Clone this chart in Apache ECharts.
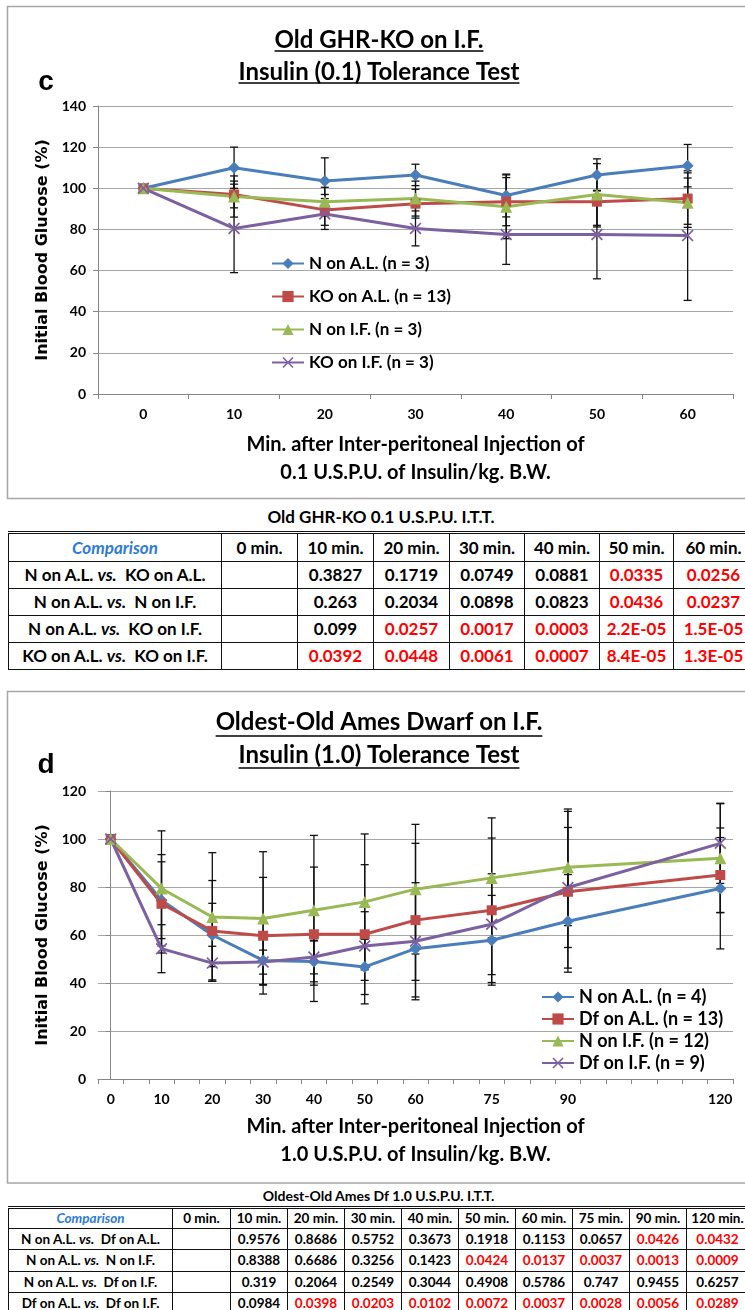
<!DOCTYPE html>
<html>
<head>
<meta charset="utf-8">
<script src="https://cdn.jsdelivr.net/npm/echarts@6/dist/echarts.min.js"></script>
<style>
html, body { margin: 0; padding: 0; background: #fff; }
body { width: 745px; height: 1310px; position: relative; overflow: hidden; }
#main { position: absolute; left: 0; top: 0; width: 745px; height: 1310px; }
table.pv { position: absolute; border-collapse: collapse; table-layout: fixed; font-family: Lato, "Noto Sans", sans-serif; font-weight: bold; background: #fff; color: #000; }
table.pv td { border: 1.5px solid #111; text-align: center; padding: 0; white-space: nowrap; overflow: hidden; }
table.pv td.ttl { border: none; border-bottom: 3px double #111; }
table.pv td.cmp { color: #2E7BD6; font-style: italic; }
table.pv .sig { color: #FF0000; }
</style>
</head>
<body>
<div id="main"></div>
<table id="tabC" class="pv"></table>
<table id="tabD" class="pv"></table>
<script>
// ---- panel c : Old GHR-KO, insulin 0.1 ----
var minutesC = ['0', '10', '20', '30', '40', '50', '60'];
var namesC = ['N on A.L. (n = 3)', 'KO on A.L. (n = 13)', 'N on I.F. (n = 3)', 'KO on I.F. (n = 3)'];
var nAL_c  = [100, 110, 103.5, 106.5, 96.5, 106.5, 111];
var koAL_c = [100, 97, 89.5, 92.5, 93.5, 93.5, 95];
var nIF_c  = [100, 96, 93.5, 95, 91, 97, 93];
var koIF_c = [100, 80.5, 87.5, 80.5, 77.5, 77.5, 77];
// error bar half-lengths
var nAL_cErr  = [0, 10, 11.3, 5.2, 10.4, 7.8, 10.3];
var koAL_cErr = [0, 6.5, 7.5, 7, 11.7, 12.3, 12.5];
var nIF_cErr  = [0, 10, 7, 8.5, 15.5, 15, 12];
var koIF_cErr = [0, 21.5, 7.5, 8.5, 14.5, 21.5, 31.5];

// ---- panel d : Oldest-old Ames dwarf, insulin 1.0 ----
var minutesD = [0, 10, 20, 30, 40, 50, 60, 75, 90, 120];
var namesD = ['N on A.L. (n = 4)', 'Df on A.L. (n = 13)', 'N on I.F. (n = 12)', 'Df on I.F. (n = 9)'];
var nAL_d  = [100, 74.5, 60, 49.4, 49, 46.7, 54.3, 57.8, 65.7, 79.4];
var dfAL_d = [100, 73, 61.7, 59.7, 60.3, 60.3, 66.2, 70.3, 78, 85];
var nIF_d  = [100, 79.4, 67.5, 66.9, 70.3, 73.8, 79.1, 83.8, 88.2, 92];
var dfIF_d = [100, 54.3, 48.3, 48.7, 50.8, 55.4, 57.4, 64.5, 79.8, 98.2];
var nAL_dErr  = [0, 16, 13.2, 10, 8.5, 11.5, 13.2, 18.7, 19.5, 25.2];
var dfAL_dErr = [0, 20.5, 21, 24.3, 28, 29, 32, 30.1, 33.5, 15.6];
var nIF_dErr  = [0, 24, 26.8, 27.8, 31.2, 28.3, 27, 25, 24.3, 22.7];
var dfIF_dErr = [0, 10, 7, 5, 7, 14.3, 24.4, 21, 25, 16.7];

var yTicksC = [0, 140, 20];   // min, max, step
var yTicksD = [0, 120, 20];

// ---- p-value tables ----
var tableTitleC = 'Old GHR-KO 0.1 U.S.P.U. I.T.T.';
var headC = ['Comparison', '0 min.', '10 min.', '20 min.', '30 min.', '40 min.', '50 min.', '60 min.'];
var compC = [['N on A.L.', 'KO on A.L.'], ['N on A.L.', 'N on I.F.'], ['N on A.L.', 'KO on I.F.'], ['KO on A.L.', 'KO on I.F.']];
var pValsC = [
  ['', '0.3827', '0.1719', '0.0749', '0.0881', '0.0335', '0.0256'],
  ['', '0.263', '0.2034', '0.0898', '0.0823', '0.0436', '0.0237'],
  ['', '0.099', '0.0257', '0.0017', '0.0003', '2.2E-05', '1.5E-05'],
  ['', '0.0392', '0.0448', '0.0061', '0.0007', '8.4E-05', '1.3E-05']
];
var tableTitleD = 'Oldest-Old Ames Df 1.0 U.S.P.U. I.T.T.';
var headD = ['Comparison', '0 min.', '10 min.', '20 min.', '30 min.', '40 min.', '50 min.', '60 min.', '75 min.', '90 min.', '120 min.'];
var compD = [['N on A.L.', 'Df on A.L.'], ['N on A.L.', 'N on I.F.'], ['N on A.L.', 'Df on I.F.'], ['Df on A.L.', 'Df on I.F.']];
var pValsD = [
  ['', '0.9576', '0.8686', '0.5752', '0.3673', '0.1918', '0.1153', '0.0657', '0.0426', '0.0432'],
  ['', '0.8388', '0.6686', '0.3256', '0.1423', '0.0424', '0.0137', '0.0037', '0.0013', '0.0009'],
  ['', '0.319', '0.2064', '0.2549', '0.3044', '0.4908', '0.5786', '0.747', '0.9455', '0.6257'],
  ['', '0.0984', '0.0398', '0.0203', '0.0102', '0.0072', '0.0037', '0.0028', '0.0056', '0.0289']
];

var colors = ['#4A7EBB', '#BE4B48', '#98B954', '#7D60A0'];
var xMark = 'path://M0,1L1,0L5,4L9,0L10,1L6,5L10,9L9,10L5,6L1,10L0,9L4,5Z';
var symbols = ['diamond', 'rect', 'triangle', xMark];
var symSizes = [12, 10, 12, 12];
var gridGray = '#A6A6A6';
var calib = 'Lato';

function errBars(xs, vals, errs) {
  var out = [];
  for (var i = 0; i < vals.length; i++) {
    if (errs[i] > 0) out.push([xs[i], vals[i] - errs[i], vals[i] + errs[i]]);
  }
  return out;
}

function renderErr(params, api) {
  var x = api.value(0);
  var top = api.coord([x, api.value(2)]);
  var bot = api.coord([x, api.value(1)]);
  var hw = 4;
  var st = { stroke: '#111', lineWidth: 1.3 };
  return {
    type: 'group',
    children: [
      { type: 'line', shape: { x1: top[0], y1: top[1], x2: bot[0], y2: bot[1] }, style: st },
      { type: 'line', shape: { x1: top[0] - hw, y1: top[1], x2: top[0] + hw, y2: top[1] }, style: st },
      { type: 'line', shape: { x1: bot[0] - hw, y1: bot[1], x2: bot[0] + hw, y2: bot[1] }, style: st }
    ]
  };
}

var series = [];
function addPanel(gi, names, xs, valsList, errsList, isCat) {
  valsList.forEach(function (vals, k) {
    series.push({
      type: 'custom', name: names[k] + ' err', xAxisIndex: gi, yAxisIndex: gi,
      renderItem: renderErr, encode: { x: 0, y: [1, 2] }, silent: true, z: 1,
      data: errBars(xs, vals, errsList[k])
    });
  });
  valsList.forEach(function (vals, k) {
    series.push({
      type: 'line', name: names[k], xAxisIndex: gi, yAxisIndex: gi, z: 3,
      data: isCat ? vals : xs.map(function (x, i) { return [x, vals[i]]; }),
      symbol: symbols[k], symbolSize: symSizes[k], showSymbol: true,
      lineStyle: { color: colors[k], width: 3 },
      itemStyle: { color: colors[k] }
    });
  });
}
addPanel(0, namesC, minutesC.map(function (m, i) { return i; }),
  [nAL_c, koAL_c, nIF_c, koIF_c], [nAL_cErr, koAL_cErr, nIF_cErr, koIF_cErr], true);
addPanel(1, namesD, minutesD,
  [nAL_d, dfAL_d, nIF_d, dfIF_d], [nAL_dErr, dfAL_dErr, nIF_dErr, dfIF_dErr], false);

var tickD = [];
for (var t = -2.5; t <= 122.5; t += 5) tickD.push(t);

var lblStyle = { color: '#000', fontFamily: calib, fontWeight: 'bold', fontSize: 14 };
var axisLine = { show: true, lineStyle: { color: '#868686', width: 1 } };
var axisTick = { show: true, inside: false, length: 5, lineStyle: { color: '#868686' } };
var yName = 'Initial Blood Glucose (%)';
var yNameStyle = { color: '#000', fontFamily: 'DejaVu Sans', fontWeight: 'bold', fontSize: 16 };
var xNameStyle = { color: '#000', fontFamily: calib, fontWeight: 'bold', fontSize: 20, lineHeight: 28 };

function yAxisOpt(gi, tk) {
  return {
    type: 'value', gridIndex: gi, min: tk[0], max: tk[1], interval: tk[2],
    axisLine: axisLine, axisTick: axisTick,
    axisLabel: Object.assign({ margin: 12 }, lblStyle),
    splitLine: { show: true, lineStyle: { color: gridGray, width: 1.2 } },
    name: yName, nameLocation: 'middle', nameGap: 43, nameTextStyle: yNameStyle
  };
}

var titleFontSize = 24;
function measure(text, size, family) {
  var ctx = document.createElement('canvas').getContext('2d');
  ctx.font = 'bold ' + size + 'px ' + family;
  return ctx.measureText(text).width;
}
function titleRow(text, cx, cy, uy) {
  var w = measure(text, titleFontSize, calib);
  return [
    { type: 'text', x: cx, y: cy, style: { text: text, fontFamily: calib, fontWeight: 'bold', fontSize: titleFontSize, fill: '#000', align: 'center', verticalAlign: 'middle' } },
    { type: 'line', shape: { x1: cx - w / 2, y1: uy, x2: cx + w / 2, y2: uy }, style: { stroke: '#000', lineWidth: 1.5 } }
  ];
}
function panelLetter(txt, x, y) {
  return { type: 'text', x: x, y: y, style: { text: txt, fontFamily: 'Liberation Sans', fontWeight: 'bold', fontSize: 28, fill: '#000', align: 'center', verticalAlign: 'middle' } };
}

var graphics = [
  { type: 'rect', shape: { x: 7.5, y: 6.5, width: 800, height: 492 }, style: { fill: 'none', stroke: gridGray, lineWidth: 1.5 }, z: -1 },
  { type: 'rect', shape: { x: 7.5, y: 691.5, width: 800, height: 491.5 }, style: { fill: 'none', stroke: gridGray, lineWidth: 1.5 }, z: -1 },
  panelLetter('c', 46, 82),
  panelLetter('d', 46, 765)
].concat(
  titleRow('Old GHR-KO on I.F.', 379, 40, 51),
  titleRow('Insulin (0.1) Tolerance Test', 379, 72, 83),
  titleRow('Oldest-Old Ames Dwarf on I.F.', 379, 722, 736),
  titleRow('Insulin (1.0) Tolerance Test', 379, 755, 768)
);

var legendText = { color: '#000', fontFamily: calib, fontWeight: 'bold', fontSize: 17 };

var option = {
  animation: false,
  backgroundColor: '#fff',
  graphic: graphics,
  grid: [
    { left: 98, top: 106, width: 635, height: 288, outerBoundsMode: 'none' },
    { left: 98, top: 791, width: 635, height: 288, outerBoundsMode: 'none' }
  ],
  legend: [
    {
      data: namesC, orient: 'vertical', left: 266, top: 250, itemWidth: 32, itemHeight: 14, itemGap: 16,
      textStyle: legendText, selectedMode: false
    },
    {
      data: namesD, orient: 'vertical', left: 536, top: 983, itemWidth: 32, itemHeight: 14, itemGap: 4,
      textStyle: Object.assign({}, legendText, { fontSize: 18 }), selectedMode: false
    }
  ],
  xAxis: [
    {
      type: 'category', gridIndex: 0, data: minutesC, boundaryGap: true,
      axisLine: axisLine, axisTick: axisTick,
      axisLabel: Object.assign({ margin: 13 }, lblStyle),
      splitLine: { show: false },
      name: 'Min. after Inter-peritoneal Injection of\n0.1 U.S.P.U. of Insulin/kg. B.W.',
      nameLocation: 'middle', nameGap: 37, nameTextStyle: xNameStyle
    },
    {
      type: 'value', gridIndex: 1, min: -2.5, max: 122.5,
      axisLine: axisLine,
      axisTick: Object.assign({ customValues: tickD }, axisTick),
      axisLabel: Object.assign({ margin: 13, customValues: minutesD }, lblStyle),
      splitLine: { show: false },
      name: 'Min. after Inter-peritoneal Injection of\n1.0 U.S.P.U. of Insulin/kg. B.W.',
      nameLocation: 'middle', nameGap: 34, nameTextStyle: xNameStyle
    }
  ],
  yAxis: [yAxisOpt(0, yTicksC), yAxisOpt(1, yTicksD)],
  series: series
};

var chart = echarts.init(document.getElementById('main'));
chart.setOption(option);

// ---- tables (HTML, real text) ----
function buildTable(id, title, head, comps, vals, geo) {
  var tb = document.getElementById(id);
  tb.style.left = geo.left + 'px';
  tb.style.top = geo.top + 'px';
  tb.style.fontSize = geo.fontSize + 'px';
  var html = '<colgroup>';
  geo.cols.forEach(function (w) { html += '<col style="width:' + w + 'px">'; });
  html += '</colgroup>';
  var tw = geo.cols.reduce(function (a, b) { return a + b; }, 0);
  tb.style.width = tw + 'px';
  html += '<tr style="height:' + geo.rows[0] + 'px"><td class="ttl" colspan="' + head.length + '" style="font-size:' + geo.titleSize + 'px">' + title + '</td></tr>';
  html += '<tr style="height:' + geo.rows[1] + 'px">';
  head.forEach(function (h, i) { html += '<td' + (i === 0 ? ' class="cmp"' : '') + '>' + h + '</td>'; });
  html += '</tr>';
  comps.forEach(function (c, r) {
    html += '<tr style="height:' + geo.rows[2] + 'px"><td>' + c[0] + ' <i>vs.</i>&nbsp; ' + c[1] + '</td>';
    vals[r].forEach(function (v) {
      var sig = v !== '' && parseFloat(v) < 0.05;
      html += '<td' + (sig ? ' class="sig"' : '') + '>' + v + '</td>';
    });
    html += '</tr>';
  });
  tb.innerHTML = html;
}
buildTable('tabC', tableTitleC, headC, compC, pValsC,
  { left: 8, top: 503, fontSize: 17, titleSize: 17, cols: [213, 76, 76, 76, 75, 75, 74, 80], rows: [29, 29, 27] });
buildTable('tabD', tableTitleD, headD, compD, pValsD,
  { left: 8, top: 1185, fontSize: 13.5, titleSize: 14, cols: [164, 58, 57, 57, 57, 57, 57, 57, 57, 57, 62], rows: [22, 21, 21.5] });
</script>
</body>
</html>
